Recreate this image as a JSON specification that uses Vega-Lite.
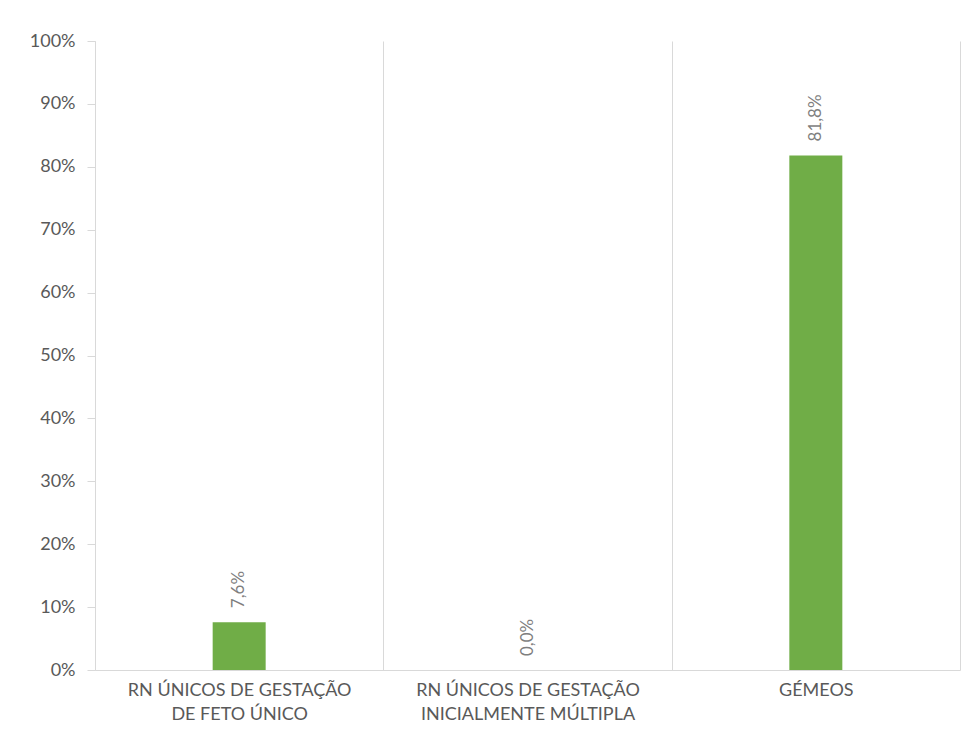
{
  "$schema": "https://vega.github.io/schema/vega-lite/v6.json",
  "width": 865,
  "height": 629,
  "autosize": {"type": "none"},
  "padding": {"left": 95, "top": 41, "right": 11, "bottom": 68},
  "background": "white",
  "config": {
    "view": {"stroke": null},
    "font": "Lato",
    "locale": {
      "number": {"decimal": ",", "thousands": ".", "grouping": [3], "currency": ["", " €"], "percent": "%"}
    }
  },
  "data": {
    "values": [
      {"categoria": "RN ÚNICOS DE GESTAÇÃO DE FETO ÚNICO", "valor": 0.076},
      {"categoria": "RN ÚNICOS DE GESTAÇÃO INICIALMENTE MÚLTIPLA", "valor": 0.0},
      {"categoria": "GÉMEOS", "valor": 0.818}
    ]
  },
  "encoding": {
    "x": {
      "field": "categoria",
      "type": "nominal",
      "sort": null,
      "title": null,
      "scale": {"paddingInner": 0, "paddingOuter": 0},
      "axis": {
        "labelAngle": 0,
        "grid": true,
        "tickBand": "extent",
        "gridColor": "#d9d9d9",
        "gridWidth": 1,
        "domainColor": "#d9d9d9",
        "ticks": false,
        "labelFont": "Lato",
        "labelFontSize": 18,
        "labelColor": "#595959",
        "labelPadding": 11,
        "labelLineHeight": 24,
        "labelLimit": 400,
        "labelExpr": "datum.value == 'RN ÚNICOS DE GESTAÇÃO DE FETO ÚNICO' ? ['RN ÚNICOS DE GESTAÇÃO', 'DE FETO ÚNICO'] : datum.value == 'RN ÚNICOS DE GESTAÇÃO INICIALMENTE MÚLTIPLA' ? ['RN ÚNICOS DE GESTAÇÃO', 'INICIALMENTE MÚLTIPLA'] : datum.value"
      }
    },
    "y": {
      "field": "valor",
      "type": "quantitative",
      "title": null,
      "scale": {"domain": [0, 1], "nice": false},
      "axis": {
        "values": [0, 0.1, 0.2, 0.3, 0.4, 0.5, 0.6, 0.7, 0.8, 0.9, 1],
        "format": ".0%",
        "grid": false,
        "domainColor": "#d9d9d9",
        "tickColor": "#d9d9d9",
        "tickSize": 8,
        "labelFont": "Lato",
        "labelFontSize": 18,
        "labelColor": "#595959",
        "labelPadding": 12
      }
    }
  },
  "layer": [
    {
      "mark": {"type": "bar", "color": "#70ad47", "size": 53}
    },
    {
      "mark": {
        "type": "text",
        "angle": 270,
        "align": "left",
        "baseline": "middle",
        "dx": 14,
        "font": "Lato",
        "fontSize": 17,
        "color": "#7f7f7f"
      },
      "encoding": {
        "text": {"field": "valor", "type": "quantitative", "format": ".1%"}
      }
    }
  ]
}
